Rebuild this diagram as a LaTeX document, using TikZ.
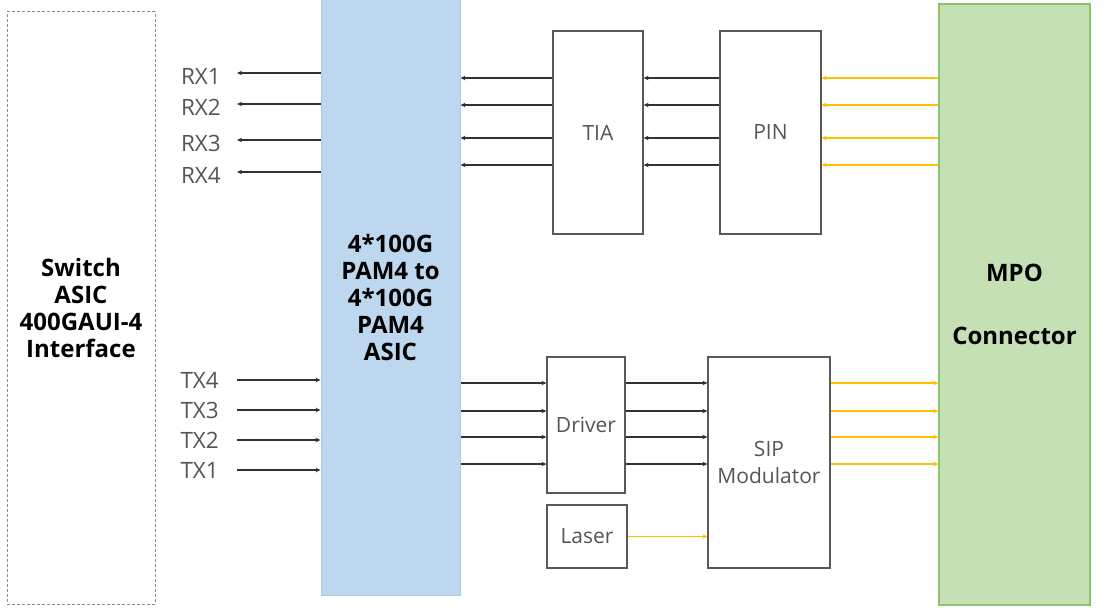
\documentclass[tikz,border=0pt]{standalone}
\usepackage{fontspec}
\setmainfont{Open Sans}
\usetikzlibrary{arrows.meta}
\definecolor{asicblue}{RGB}{189,215,238}
\definecolor{asicedge}{RGB}{172,202,232}
\definecolor{mpogreen}{RGB}{197,224,180}
\definecolor{mpoedge}{RGB}{140,195,110}
\definecolor{fiber}{RGB}{255,192,0}
\definecolor{wire}{RGB}{50,50,50}
\definecolor{labelgray}{RGB}{85,85,85}
\tikzset{
  block/.style={draw=black!65,line width=1.2pt,fill=white,text=labelgray,
    font=\fontsize{21}{27}\selectfont,align=center,inner sep=0pt},
  bigtext/.style={font=\fontsize{24}{27}\selectfont\bfseries,align=center,inner sep=0pt},
  wirearrow/.style={draw=wire,line width=1.6pt,-{Stealth[length=5pt,width=4.5pt]}},
  fiberarrow/.style={draw=fiber,line width=1.6pt,-{Stealth[length=5pt,width=4.5pt]}},
  portlabel/.style={text=labelgray,font=\fontsize{22.5}{24}\selectfont,anchor=east,inner sep=0pt}
}
\begin{document}
\begin{tikzpicture}[x=1pt,y=-1pt]
\useasboundingbox (0,0) rectangle (1116,615);
\node[bigtext,draw=black!45,dash pattern=on 3pt off 2pt,line width=1pt,
  minimum width=148pt,minimum height=592pt] at (81,308) (switch) {Switch\\ASIC\\400GAUI-4\\Interface};
\node[bigtext,fill=asicblue,draw=asicedge,line width=1pt,
  minimum width=139pt,minimum height=597pt] at (390.5,297) (asic) {4*100G\\PAM4 to\\4*100G\\PAM4\\ASIC};
\node[bigtext,fill=mpogreen,draw=mpoedge,line width=1.2pt,
  minimum width=151pt,minimum height=601pt] at (1014.5,304.5) (mpo) {MPO\\[36pt]Connector};
\node[block,minimum width=90pt,minimum height=203pt] at (598,132.5) (tia) {TIA};
\node[block,minimum width=101pt,minimum height=203pt] at (770.5,132.5) (pin) {PIN};
\node[block,minimum width=78pt,minimum height=136pt] at (586,425) (driver) {Driver};
\node[block,minimum width=80pt,minimum height=63pt] at (587,536.5) (laser) {Laser};
\node[block,minimum width=122pt,minimum height=211pt] at (769,462.5) (sip) {SIP\\Modulator};
\foreach \i/\y in {1/73,2/104,3/140,4/172}{
  \coordinate (rxend\i) at (237,\y);
  \node[portlabel] at (221,\y+3) (rx\i) {RX\i};
  \draw[wirearrow] (asic.west |- rxend\i) -- (rxend\i);
}
\foreach \i/\y in {4/380,3/410,2/440,1/470}{
  \coordinate (txstart\i) at (237,\y);
  \node[portlabel] at (219,\y) (tx\i) {TX\i};
  \draw[wirearrow] (txstart\i) -- (asic.west |- txstart\i);
}
\foreach \y in {78,105,138,165}{
  \draw[wirearrow] (tia.west |- 0,\y) -- (asic.east |- 0,\y);
  \draw[wirearrow] (pin.west |- 0,\y) -- (tia.east |- 0,\y);
  \draw[fiberarrow] (mpo.west |- 0,\y) -- (pin.east |- 0,\y);
}
\foreach \y in {383,411,437,464}{
  \draw[wirearrow] (asic.east |- 0,\y) -- (driver.west |- 0,\y);
  \draw[wirearrow] (driver.east |- 0,\y) -- (sip.west |- 0,\y);
  \draw[fiberarrow] (sip.east |- 0,\y) -- (mpo.west |- 0,\y);
}
\draw[fiberarrow] (laser.east) -- (sip.west |- laser.east);
\end{tikzpicture}
\end{document}
